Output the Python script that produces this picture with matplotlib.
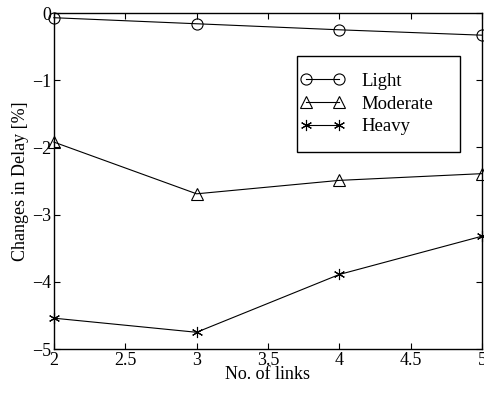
import matplotlib
matplotlib.use("Agg")
import matplotlib.pyplot as plt
from matplotlib.patches import Rectangle

plt.rcParams['font.family'] = ['Liberation Serif', 'DejaVu Serif']

# Number of links on the x axis
links = [2, 3, 4, 5]
# Changes in delay (%) for each traffic load
light = [-0.07, -0.16, -0.25, -0.33]
moderate = [-1.92, -2.69, -2.49, -2.39]
heavy = [-4.54, -4.75, -3.89, -3.32]
labels = ["Light", "Moderate", "Heavy"]

fig = plt.figure(figsize=(4.85, 3.94), dpi=100)
ax = fig.add_axes([0.111, 0.114, 0.883, 0.853])

lw = 0.8
ax.plot(links, light, color='k', lw=lw, marker='o', ms=8, mfc='none', mec='k', mew=0.8,
        label=labels[0], clip_on=False)
ax.plot(links, moderate, color='k', lw=lw, marker='^', ms=9, mfc='none', mec='k', mew=0.8,
        label=labels[1], clip_on=False)
ax.plot(links, heavy, color='k', lw=lw, marker=(6, 2, 0), ms=8, mec='k', mew=0.8,
        label=labels[2], clip_on=False)

ax.set_xlim(2, 5)
ax.set_ylim(-5, 0)
ax.set_xticks([2, 2.5, 3, 3.5, 4, 4.5, 5])
ax.set_xticklabels(["2", "2.5", "3", "3.5", "4", "4.5", "5"])
ax.set_yticks([-5, -4, -3, -2, -1, 0])
ax.set_yticklabels(["\u22125", "\u22124", "\u22123", "\u22122", "\u22121", "0"])
ax.tick_params(direction='in', top=True, right=True, labelsize=13, length=4, width=0.8, pad=2)
for s in ax.spines.values():
    s.set_linewidth(1.0)

ax.set_xlabel("No. of links", fontsize=13, labelpad=-2)
ax.set_ylabel("Changes in Delay [%]", fontsize=13, labelpad=2)

# legend box drawn separately so it keeps the wide right margin
box = Rectangle((0.568, 0.586), 0.381, 0.286, transform=ax.transAxes, facecolor='white',
                edgecolor='k', lw=1.0, zorder=4)
ax.add_patch(box)
leg = ax.legend(loc='upper left', bbox_to_anchor=(0.568, 0.832), fontsize=13.5, frameon=False,
                borderpad=0.18, handlelength=2.35, labelspacing=0.3,
                handletextpad=0.9, borderaxespad=0, numpoints=2)
leg.set_zorder(5)

fig.savefig("out.png", dpi=100)
